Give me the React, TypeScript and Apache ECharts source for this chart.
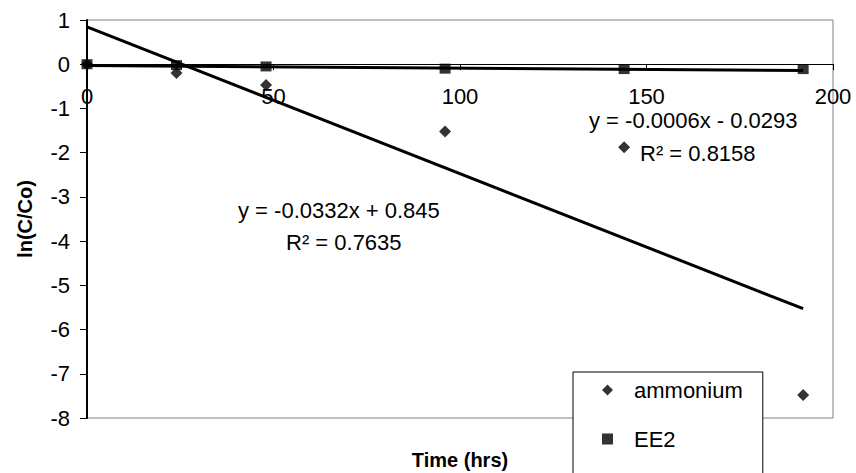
import React, { useEffect, useRef } from "react";
import * as echarts from "echarts";

const times = [0, 24, 48, 96, 144, 192];
const ammonium = [0, -0.2, -0.47, -1.52, -1.88, -7.48];
const ee2 = [0, -0.02, -0.05, -0.1, -0.11, -0.11];
const ammoniumTrend = [[0, 0.845], [192, -5.529]];
const ee2Trend = [[0, -0.0293], [192, -0.1445]];
const eqAmmonium = ["y = -0.0332x + 0.845", "R² = 0.7635"];
const eqEE2 = ["y = -0.0006x - 0.0293", "R² = 0.8158"];

const FONT = "'Liberation Sans', Arial, sans-serif";

const GRID_TOP = 20;
const GRID_BOTTOM = 55;
const HEIGHT = 473;
const Y_MIN = -8;
const Y_MAX = 1;

export default function App() {
  const ref = useRef<HTMLDivElement>(null);
  useEffect(() => {
    if (!ref.current) return;
    const chart = echarts.init(ref.current, null, { renderer: "svg" });
    const textBase = { fontFamily: FONT, fontSize: 22, fill: "#000" };
    const plotH = HEIGHT - GRID_TOP - GRID_BOTTOM;
    // distance from the bottom of the plot up to the y = 0 line
    const zeroOffset = -plotH * (0 - Y_MIN) / (Y_MAX - Y_MIN);
    chart.setOption({
      animation: false,
      backgroundColor: "#fff",
      textStyle: { fontFamily: FONT },
      grid: {
        left: 87,
        right: 23,
        top: GRID_TOP,
        bottom: GRID_BOTTOM,
        containLabel: false,
        outerBoundsMode: "none",
        show: true,
        borderColor: "#808080",
        borderWidth: 1,
        backgroundColor: "transparent",
      },
      xAxis: {
        type: "value",
        min: 0,
        max: 200,
        interval: 50,
        position: "bottom",
        offset: zeroOffset,
        name: "Time (hrs)",
        nameLocation: "middle",
        nameGap: 386,
        nameTextStyle: { fontSize: 20, fontWeight: "bold", color: "#000", fontFamily: FONT },
        axisLine: { onZero: false, lineStyle: { color: "#000", width: 1 } },
        axisTick: { show: true, inside: false, length: 6, lineStyle: { color: "#000" } },
        axisLabel: { fontSize: 22, color: "#000", margin: 21, fontFamily: FONT },
        splitLine: { show: false },
      },
      yAxis: {
        type: "value",
        min: Y_MIN,
        max: Y_MAX,
        interval: 1,
        name: "ln(C/Co)",
        nameLocation: "middle",
        nameGap: 52,
        nameRotate: 90,
        nameTextStyle: { fontSize: 20, fontWeight: "bold", color: "#000", fontFamily: FONT },
        axisLine: { show: true, onZero: false, lineStyle: { color: "#000", width: 2 } },
        axisTick: { show: true, length: 7, lineStyle: { color: "#000" } },
        axisLabel: { fontSize: 22, color: "#000", margin: 17, fontFamily: FONT },
        splitLine: { show: false },
      },
      legend: {
        orient: "vertical",
        left: 573,
        top: 372,
        height: 200,
        padding: [7, 20, 60, 29],
        itemWidth: 11,
        itemHeight: 11,
        itemGap: 27,
        backgroundColor: "#fff",
        borderColor: "#000",
        borderWidth: 1,
        borderRadius: 0,
        textStyle: { fontSize: 22, color: "#000", fontFamily: FONT, padding: [0, 0, 0, 16] },
        data: [
          { name: "ammonium", icon: "diamond" },
          { name: "EE2", icon: "rect" },
        ],
      },
      series: [
        {
          name: "ammonium",
          type: "scatter",
          symbol: "diamond",
          symbolSize: 12,
          itemStyle: { color: "#000" },
          data: times.map((t, i) => [t, ammonium[i]]),
          z: 3,
        },
        {
          name: "EE2",
          type: "scatter",
          symbol: "rect",
          symbolSize: [11, 10],
          itemStyle: { color: "#000" },
          data: times.map((t, i) => [t, ee2[i]]),
          z: 3,
        },
        {
          name: "ammonium trend",
          type: "line",
          showSymbol: false,
          symbol: "none",
          lineStyle: { color: "#000", width: 3 },
          data: ammoniumTrend,
          z: 4,
        },
        {
          name: "EE2 trend",
          type: "line",
          showSymbol: false,
          symbol: "none",
          lineStyle: { color: "#000", width: 3 },
          data: ee2Trend,
          z: 4,
        },
      ],
      graphic: [
        { type: "text", left: 238, top: 199, style: { ...textBase, text: eqAmmonium[0] } },
        { type: "text", left: 286, top: 231, style: { ...textBase, text: eqAmmonium[1] } },
        { type: "text", left: 589, top: 109, style: { ...textBase, text: eqEE2[0] } },
        { type: "text", left: 640, top: 142, style: { ...textBase, text: eqEE2[1] } },
      ],
    });
    return () => chart.dispose();
  }, []);
  return (
    <div
      ref={ref}
      style={{ position: "fixed", left: 0, top: 0, width: 856, height: 473 }}
    />
  );
}
